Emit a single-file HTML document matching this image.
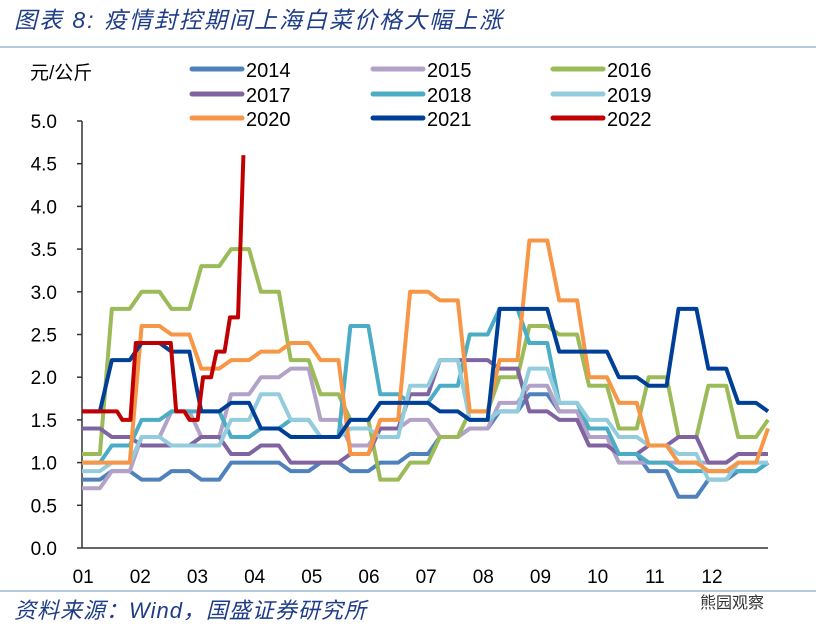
<!DOCTYPE html>
<html><head><meta charset="utf-8"><style>
body{margin:0;background:#fff;width:816px;height:639px;overflow:hidden;font-family:"Liberation Sans","Noto Sans CJK SC",sans-serif}
svg text{font-family:"Liberation Sans","Noto Sans CJK SC",sans-serif}
</style></head><body>
<svg id="chart" width="816" height="639">
<text x="14" y="28" font-size="23" font-style="italic" fill="#1F3C88" letter-spacing="2">图表 8:  疫情封控期间上海白菜价格大幅上涨</text>
<line x1="0" y1="47" x2="816" y2="47" stroke="#b7c9e2" stroke-width="2"/>
<text x="30" y="79" font-size="19" fill="#000">元/公斤</text>
<g id="legend"></g>
<g id="axes"></g>
<g id="series"></g>
<line x1="0" y1="591" x2="816" y2="591" stroke="#b7c9e2" stroke-width="2"/>
<text x="14" y="618" font-size="22" font-style="italic" fill="#1F3C88" letter-spacing="1">资料来源：Wind，国盛证券研究所</text>
<text x="700" y="608" font-size="16" fill="#333">熊园观察</text>
</svg>
<script>
const months=["01","02","03","04","05","06","07","08","09","10","11","12"];
const yTicks=[0,0.5,1,1.5,2,2.5,3,3.5,4,4.5,5];
const years=["2014","2015","2016","2017","2018","2019","2020","2021","2022"];
const colors=["#4F81BD","#B3A2C7","#9BBB59","#8064A2","#4BACC6","#93CDDD","#F79646","#003F98","#C00000"];
// semi-monthly samples (24 per year)
const s2014=[0.8,0.9,0.8,0.9,0.8,1.0,1.0,0.9,1.0,0.9,1.0,1.1,1.3,1.4,1.6,1.8,1.6,1.3,1.1,0.9,0.6,0.8,0.9,1.0];
const s2015=[0.7,0.9,1.3,1.6,1.3,1.8,2.0,2.1,1.5,1.2,1.4,1.5,1.3,1.4,1.7,1.9,1.6,1.3,1.0,1.0,1.0,1.0,1.1,1.1];
const s2016=[1.1,2.8,3.0,2.8,3.3,3.5,3.0,2.2,1.8,1.5,0.8,1.0,1.3,1.6,2.0,2.6,2.5,1.9,1.4,2.0,1.3,1.9,1.3,1.5];
const s2017=[1.4,1.3,1.2,1.2,1.3,1.1,1.2,1.0,1.0,1.1,1.4,1.8,2.2,2.2,2.1,1.6,1.5,1.2,1.1,1.2,1.3,1.0,1.1,1.1];
const s2018=[1.0,1.2,1.5,1.6,1.6,1.3,1.4,1.5,1.3,2.6,1.8,1.7,1.9,2.5,2.8,2.4,1.7,1.4,1.1,1.0,0.9,0.9,0.9,1.0];
const s2019=[0.9,1.0,1.3,1.2,1.2,1.5,1.8,1.5,1.3,1.4,1.3,1.9,2.2,1.5,1.6,2.1,1.7,1.5,1.3,1.2,1.1,0.8,1.0,1.0];
const s2020=[1.0,1.0,2.6,2.5,2.1,2.2,2.3,2.4,2.2,1.1,1.5,3.0,2.9,1.6,2.2,3.6,2.9,2.0,1.7,1.2,1.0,0.9,1.0,1.4];
const s2021=[1.6,2.2,2.4,2.3,1.6,1.7,1.4,1.3,1.3,1.5,1.7,1.7,1.6,1.5,2.8,2.8,2.3,2.3,2.0,1.9,2.8,2.1,1.7,1.6];
// weekly samples for 2022
const s2022=[1.6,1.6,1.6,1.5,2.4,2.4,2.4,1.6,1.5,2.0,2.3,2.7,4.6];
const allSeries=[s2014,s2015,s2016,s2017,s2018,s2019,s2020,s2021];

const X0=82,X1=768,Y0=548,Y1=121,VMAX=5;
const NS="http://www.w3.org/2000/svg";
function yScale(v){return Y0-(v/VMAX)*(Y0-Y1);}
function xSemi(i){return X0+i*(X1-X0)/23;}
function xWeek(w){return X0+w*(X1-X0)/51;}
function mk(tag,attrs,parent){const e=document.createElementNS(NS,tag);for(const k in attrs)e.setAttribute(k,attrs[k]);parent.appendChild(e);return e;}

const axes=document.getElementById('axes');
let a=mk('line',{x1:X0,y1:Y1,x2:X0,y2:Y0,stroke:'#333','stroke-width':1.5},axes);


a=mk('line',{x1:X0,y1:Y0,x2:X1,y2:Y0,stroke:'#333','stroke-width':1.5},axes);


yTicks.forEach(v=>{
  const y=yScale(v);
  const t=mk('line',{x1:X0-5,y1:y,x2:X0,y2:y,stroke:'#333','stroke-width':1.5},axes);
  
  
  const l=mk('text',{x:57,y:y+7,'font-size':19,'text-anchor':'end',fill:'#000'},axes);
  l.textContent=v.toFixed(1);
  
  
});
months.forEach((m,i)=>{
  const x=X0+(i+0.02)*(X1-X0)/12;
  const l=mk('text',{x:x,y:583,'font-size':19,'text-anchor':'middle',fill:'#000'},axes);
  l.textContent=m;
  
  
});

const sg=document.getElementById('series');
function stepPath(vals,xf){
  let d='';
  vals.forEach((v,i)=>{
    const x=xf(i),y=yScale(v);
    if(i===0)d+='M'+x+','+y;
    else{const px=xf(i-1)+(x-xf(i-1))*0.6;d+=' L'+px+','+yScale(vals[i-1])+' L'+x+','+y;}
  });
  return d;
}
allSeries.forEach((vals,k)=>{
  const p=mk('path',{d:stepPath(vals,xSemi),fill:'none',stroke:colors[k],'stroke-width':4,'stroke-linejoin':'round'},sg);
  
  
});
const p22=mk('path',{d:stepPath(s2022,xWeek),fill:'none',stroke:colors[8],'stroke-width':4,'stroke-linejoin':'round'},sg);



const lg=document.getElementById('legend');
const colX=[192,373,553],rowY=[69,94,118];
years.forEach((yr,k)=>{
  const cx=colX[k%3],cy=rowY[Math.floor(k/3)];
  const g=mk('g',{},lg);
  
  
  mk('line',{x1:cx,y1:cy,x2:cx+50,y2:cy,stroke:colors[k],'stroke-width':5,'stroke-linecap':'round'},g);
  const t=mk('text',{x:cx+54,y:cy+8,'font-size':20,fill:'#000'},g);
  t.textContent=yr;
});
</script>
</body></html>
